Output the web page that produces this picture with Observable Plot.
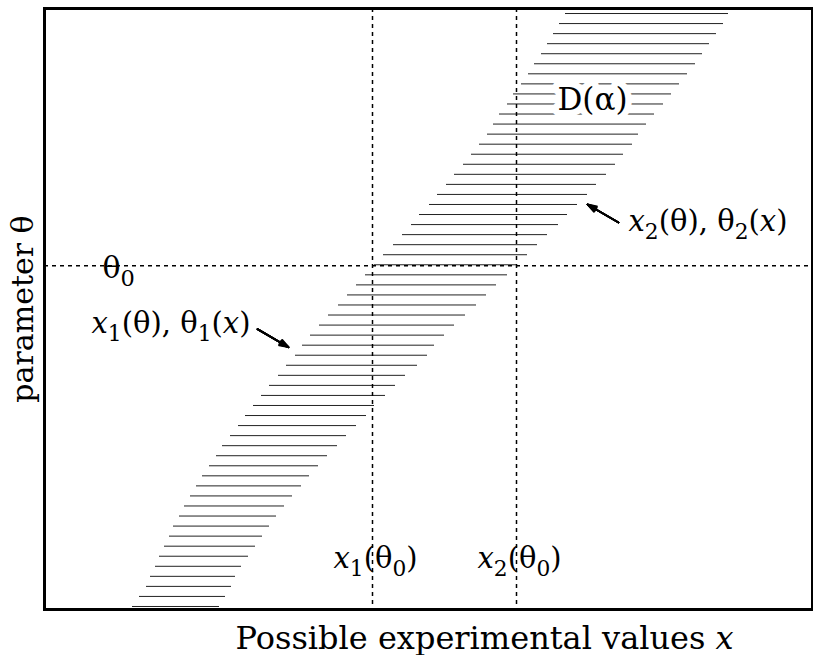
<!DOCTYPE html>
<html><head><meta charset="utf-8">
<script src="https://cdn.jsdelivr.net/npm/d3@7"></script>
<script src="https://cdn.jsdelivr.net/npm/@observablehq/plot@0.6"></script>
<style>body{margin:0;background:#fff} svg{display:block}</style>
</head><body><div id="chart"></div>
<script>
// Belt lines: parameter index θ (bottom to top), left edge x1(θ), right edge x2(θ)
const thetaValues = [0,1,2,3,4,5,6,7,8,9,10,11,12,13,14,15,16,17,18,19,20,21,22,23,24,25,26,27,28,29,
  30,31,32,33,34,35,36,37,38,39,40,41,42,43,44,45,46,47,48,49,50,51,52,53,54,55,56,57,58,59];
const x1Values = [88,95,102,106,111,115,120,125,129,135,140,146,152,158,165,172,178,186,194,201,
  209,217,225,234,242,251,258,266,275,284,294,303,312,321,330,339,349,358,367,375,
  385,393,402,410,419,427,435,443,449,455,463,469,477,484,490,497,503,509,515,521];
const x2Values = [175,181,187,191,197,204,211,218,225,232,240,248,257,265,274,283,293,302,312,322,
  330,341,351,361,373,383,390,400,410,421,432,442,452,463,473,483,493,503,514,523,
  533,543,552,562,571,579,588,594,602,610,619,627,635,643,651,658,665,672,679,684];

// Reference values
const theta0 = 33.9;
const x1AtTheta0 = 328;
const x2AtTheta0 = 472;

// Labels (markup: *italic*, _subscript)
const labelTheta0 = "θ_0";
const labelLower = "*x*_1(θ), θ_1(*x*)";
const labelUpper = "*x*_2(θ), θ_2(*x*)";
const labelX1 = "*x*_1(θ_0)";
const labelX2 = "*x*_2(θ_0)";
const labelBelt = "D(α)";
const xTitle = "Possible experimental values *x*";
const yTitle = "parameter θ";

// Arrows pointing at the belt edges: from (xFrom, tFrom) to (xTo, tTo)
const arrows = [
  {xFrom: 213, tFrom: 27.6, xTo: 244, tTo: 25.8},
  {xFrom: 574, tFrom: 38.2, xTo: 543, tTo: 40.0}
];
const headAngles = [6, 14, 22, 30, 38];

const belt = thetaValues.map((t, i) => ({theta: t, x1: x1Values[i], x2: x2Values[i]}));

const chart = Plot.plot({
  width: 813, height: 655,
  marginLeft: 44, marginRight: 1, marginTop: 8, marginBottom: 46,
  x: {domain: [0, 768], axis: null},
  y: {domain: [-0.3, 59.5], axis: null},
  style: {fontFamily: "'DejaVu Serif', serif", background: "white", color: "black"},
  marks: [
    Plot.ruleY(belt, {y: "theta", x1: "x1", x2: "x2", stroke: "#222", strokeWidth: 1}),
    Plot.ruleX([x1AtTheta0, x2AtTheta0], {stroke: "black", strokeWidth: 1.5, strokeDasharray: "4,4"}),
    Plot.ruleY([theta0], {stroke: "black", strokeWidth: 1.5, strokeDasharray: "4,4"}),
    Plot.text([labelBelt], {x: 548, y: 49.4, text: d => d, fontSize: 31, lineAnchor: "bottom",
      stroke: "white", strokeWidth: 13, fill: "black"}),
    Plot.text([labelTheta0], {x: 58, y: 32.7, text: d => d, fontSize: 30, lineAnchor: "bottom", textAnchor: "start"}),
    Plot.text([labelLower], {x: 206, y: 27.2, text: d => d, fontSize: 29, lineAnchor: "bottom", textAnchor: "end"}),
    Plot.text([labelUpper], {x: 584, y: 37.4, text: d => d, fontSize: 29, lineAnchor: "bottom", textAnchor: "start"}),
    Plot.text([labelX1], {x: x1AtTheta0 + 3, y: 3.8, text: d => d, fontSize: 29, lineAnchor: "bottom"}),
    Plot.text([labelX2], {x: x2AtTheta0 + 3, y: 3.8, text: d => d, fontSize: 29, lineAnchor: "bottom"}),
    ...headAngles.map(a => Plot.arrow(arrows, {x1: "xFrom", y1: "tFrom", x2: "xTo", y2: "tTo",
      stroke: "black", strokeWidth: 1.8, headLength: 8, headAngle: a})),
    Plot.frame({stroke: "black", strokeWidth: 3}),
    Plot.text([xTitle], {frameAnchor: "bottom", x: 191, text: d => d, fontSize: 32, textAnchor: "start",
      lineAnchor: "bottom", dy: 39}),
    Plot.text([yTitle], {frameAnchor: "left", text: d => d, fontSize: 30, rotate: -90,
      textAnchor: "middle", lineAnchor: "bottom", dx: -12})
  ]
});

// rich text: italics and subscripts
function richify(el) {
  const s = el.textContent;
  if (!/[_*]/.test(s)) return;
  let node = el, fs = NaN;
  while (node && isNaN(fs)) { fs = parseFloat(node.getAttribute && node.getAttribute("font-size")); node = node.parentNode; }
  if (isNaN(fs)) fs = 29;
  const shift = Math.round(fs * 0.27);
  el.textContent = "";
  const parts = s.split(/(\*[^*]+\*|_\w)/).filter(p => p);
  let lowered = false;
  for (const p of parts) {
    const t = document.createElementNS("http://www.w3.org/2000/svg", "tspan");
    if (p.startsWith("_")) {
      t.textContent = p.slice(1);
      t.setAttribute("font-size", (fs * 0.75) + "px");
      if (!lowered) { t.setAttribute("dy", shift); lowered = true; }
    } else {
      if (p.startsWith("*")) { t.textContent = p.slice(1, -1); t.setAttribute("font-style", "italic"); }
      else t.textContent = p;
      if (lowered) { t.setAttribute("dy", -shift); lowered = false; }
    }
    el.appendChild(t);
  }
}
d3.select(chart).selectAll("text").each(function() { richify(this); });
document.getElementById("chart").appendChild(chart);
</script>
</body></html>
